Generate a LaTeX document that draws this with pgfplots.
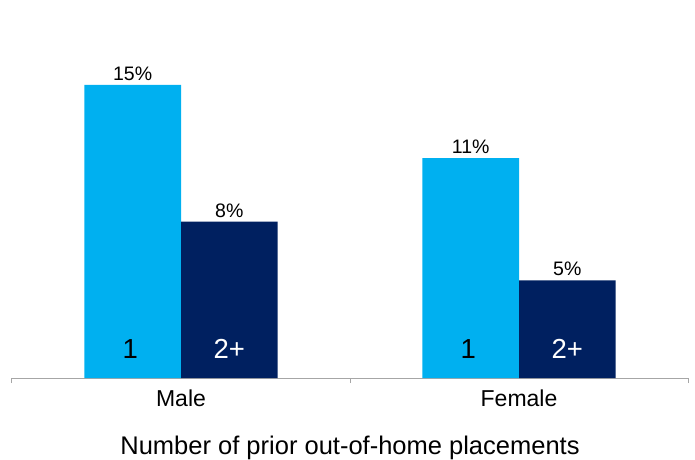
\documentclass[border=0pt]{standalone}
\usepackage{pgfplots}
\pgfplotsset{compat=1.18}
\usepackage{fontspec}
\setmainfont{Liberation Sans}

\definecolor{lightbar}{RGB}{0,176,240}
\definecolor{darkbar}{RGB}{0,32,96}
\definecolor{axisgray}{RGB}{166,166,166}

\begin{document}
\begin{tikzpicture}
\begin{axis}[
    scale only axis,
    width=676pt, height=378pt,
    xmin=-0.5, xmax=1.5,
    ymin=0, ymax=19.35,
    ybar=0pt, bar width=0.286,
    axis y line=none,
    axis x line*=bottom,
    x axis line style={axisgray, line width=1pt, -},
    xtick={0,1},
    xticklabels={Male,Female},
    major x tick style={draw=none},
    minor xtick={-0.5,0.5,1.5},
    minor x tick style={axisgray, line width=1pt},
    minor tick length=5pt,
    tick align=outside,
    xticklabel style={font=\fontsize{23}{26}\selectfont, yshift=-4pt},
    xlabel={Number of prior out-of-home placements},
    xlabel style={font=\fontsize{25.5}{28}\selectfont, yshift=-22pt},
    nodes near coords,
    point meta=explicit symbolic,
    every node near coord/.append style={font=\fontsize{19.5}{22}\selectfont, text=black, yshift=1pt},
    clip=false,
]
% one placement
\addplot[fill=lightbar, draw=none] coordinates {(0,15) [15\%] (1,11.25) [11\%]};
% two or more placements
\addplot[fill=darkbar, draw=none] coordinates {(0,8) [8\%] (1,5) [5\%]};

\node[anchor=base, font=\fontsize{27.5}{30}\selectfont, text=black] at (axis cs:-0.15,0) [yshift=20pt] {1};
\node[anchor=base, font=\fontsize{27.5}{30}\selectfont, text=white] at (axis cs:0.143,0) [yshift=20pt] {2+};
\node[anchor=base, font=\fontsize{27.5}{30}\selectfont, text=black] at (axis cs:0.85,0) [yshift=20pt] {1};
\node[anchor=base, font=\fontsize{27.5}{30}\selectfont, text=white] at (axis cs:1.143,0) [yshift=20pt] {2+};
\end{axis}
\pgfresetboundingbox
\path (-12pt,-81pt) rectangle (683pt,378pt);
\end{tikzpicture}
\end{document}
